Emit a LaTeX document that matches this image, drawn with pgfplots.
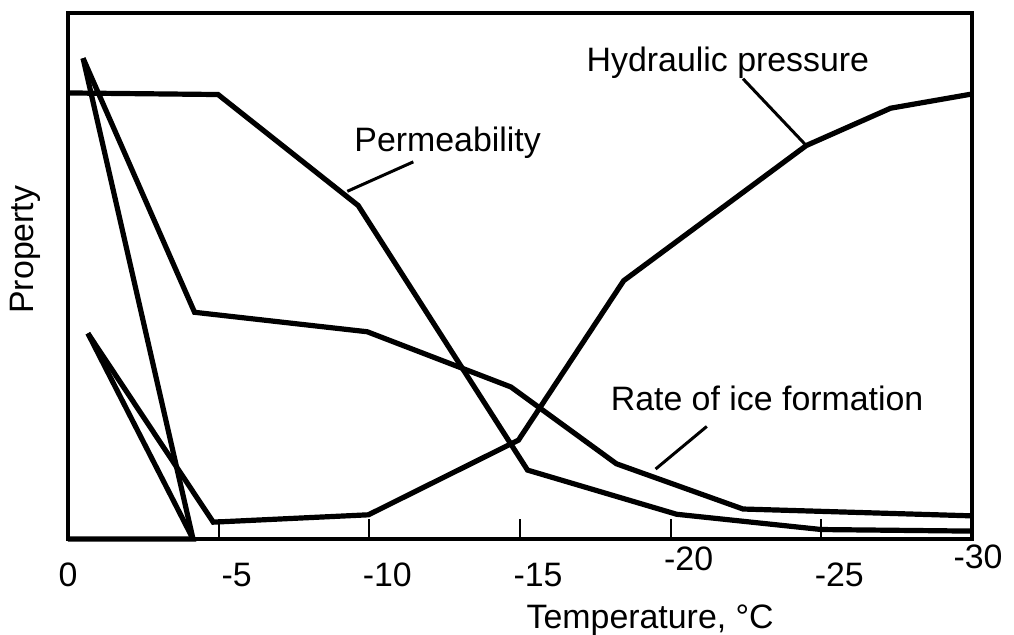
\documentclass[border=0pt]{standalone}
\usepackage{fontspec}
\setmainfont{Liberation Sans}
\usepackage{pgfplots}
\pgfplotsset{compat=1.18}
\pgfplotsset{curve/.style={black, mark=none, line width=2.6bp},
  leader/.style={black, mark=none, line width=1.5bp}}
\begin{document}
\fontsize{17}{20}\selectfont
\begin{tikzpicture}
\path[use as bounding box] (-34bp,-48bp) rectangle (473bp,269.5bp);
\begin{axis}[at={(0,0)}, anchor=south west, scale only axis,
  width=452bp, height=263bp,
  xmin=-30, xmax=0, x dir=reverse, ymin=0, ymax=100,
  xtick={0,-5,-10,-15,-20,-25,-30},
  xticklabels={0,\hspace*{18bp}-5,\hspace*{18bp}-10,\hspace*{18bp}-15,\hspace*{18bp}\raisebox{8bp}{-20},\hspace*{18bp}-25,\hspace*{6bp}\raisebox{9bp}{-30}},
  ytick=\empty,
  xtick pos=bottom, tick align=inside, major tick length=10bp,
  axis line style={line width=1.6bp},
  major tick style={line width=1bp, black},
  xticklabel style={anchor=base, inner sep=0pt, yshift=-23.5bp},
  xlabel={Temperature, °C},
  xlabel style={at={(axis description cs:0.644,0)}, anchor=base, inner sep=0pt, yshift=-44.5bp},
  ylabel={Property},
  ylabel style={at={(axis description cs:-0.038,0.55)}, anchor=base, inner sep=0pt},
  clip=false,
  font=\fontsize{17}{20}\selectfont]
% Permeability
\addplot[curve] coordinates {(0,84.8) (-4.98,84.5) (-9.63,63.4) (-15.25,13.1) (-20.2,4.7) (-25.0,1.8) (-30,1.5)};
% Rate of ice formation
\addplot[curve] coordinates {(-0.5,91.4) (-4.2,43.1) (-9.93,39.4) (-14.7,28.9) (-18.2,14.3) (-22.4,5.7) (-30,4.4)};
% Hydraulic pressure
\addplot[curve] coordinates {(-0.66,39.1) (-4.82,3.2) (-9.97,4.6) (-14.95,18.8) (-18.44,49.1) (-24.5,74.8) (-27.3,81.9) (-30,84.6)};
% steep lines near 0
\addplot[curve] coordinates {(-0.5,91.4) (-4.15,0) (0,0)};
\addplot[curve] coordinates {(-0.66,39.1) (-4.15,0)};
% leader lines
\addplot[leader] coordinates {(-22.4,87.5) (-24.5,74.8)};
\addplot[leader] coordinates {(-11.46,71.7) (-9.27,66.1)};
\addplot[leader] coordinates {(-21.2,21.4) (-19.5,13.3)};
\node[anchor=base, inner sep=0pt] at (axis cs:-21.9,88.8) {Hydraulic pressure};
\node[anchor=base, inner sep=0pt] at (axis cs:-12.6,73.6) {Permeability};
\node[anchor=base, inner sep=0pt] at (axis cs:-23.2,24.5) {Rate of ice formation};
\end{axis}
\end{tikzpicture}
\end{document}
